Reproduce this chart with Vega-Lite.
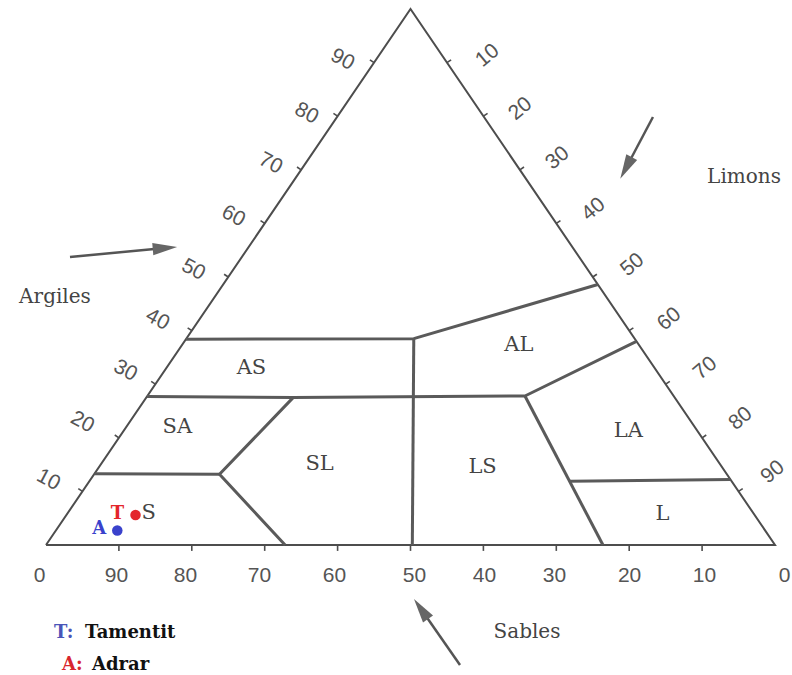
{
  "$schema": "https://vega.github.io/schema/vega-lite/v6.json",
  "width": 792,
  "height": 675,
  "padding": 0,
  "autosize": {"type": "none"},
  "background": "white",
  "config": {"view": {"stroke": null}},
  "datasets": {
    "frame": [
      {"o": 1, "x": 0, "y": 0},
      {"o": 2, "x": 100, "y": 0},
      {"o": 3, "x": 50, "y": 100},
      {"o": 4, "x": 0, "y": 0}
    ],
    "bounds": [
      {"seg": "AS-top", "o": 1, "x": 19.2, "y": 38.4},
      {"seg": "AS-top", "o": 2, "x": 50.45, "y": 38.5},
      {"seg": "AS-top", "o": 3, "x": 75.7, "y": 48.6},
      {"seg": "AS-bottom", "o": 1, "x": 13.85, "y": 27.7},
      {"seg": "AS-bottom", "o": 2, "x": 33.9, "y": 27.5},
      {"seg": "AS-bottom", "o": 3, "x": 65.7, "y": 27.8},
      {"seg": "AS-bottom", "o": 4, "x": 81.0, "y": 38.0},
      {"seg": "vertical", "o": 1, "x": 50.45, "y": 38.5},
      {"seg": "vertical", "o": 2, "x": 50.25, "y": 0},
      {"seg": "S-top", "o": 1, "x": 6.65, "y": 13.3},
      {"seg": "S-top", "o": 2, "x": 23.8, "y": 13.2},
      {"seg": "SL-left", "o": 1, "x": 33.9, "y": 27.5},
      {"seg": "SL-left", "o": 2, "x": 23.8, "y": 13.2},
      {"seg": "SL-left", "o": 3, "x": 32.8, "y": 0},
      {"seg": "LS-right", "o": 1, "x": 65.7, "y": 27.8},
      {"seg": "LS-right", "o": 2, "x": 76.4, "y": 0},
      {"seg": "L-top", "o": 1, "x": 71.85, "y": 11.9},
      {"seg": "L-top", "o": 2, "x": 93.9, "y": 12.2}
    ],
    "ticks": [
      {"x": 5, "y": 10, "x2": 4.43, "y2": 10.52},
      {"x": 10, "y": 20, "x2": 9.43, "y2": 20.52},
      {"x": 15, "y": 30, "x2": 14.43, "y2": 30.52},
      {"x": 20, "y": 40, "x2": 19.43, "y2": 40.52},
      {"x": 25, "y": 50, "x2": 24.43, "y2": 50.52},
      {"x": 30, "y": 60, "x2": 29.43, "y2": 60.52},
      {"x": 35, "y": 70, "x2": 34.43, "y2": 70.52},
      {"x": 40, "y": 80, "x2": 39.43, "y2": 80.52},
      {"x": 45, "y": 90, "x2": 44.43, "y2": 90.52},
      {"x": 55, "y": 90, "x2": 55.57, "y2": 90.52},
      {"x": 60, "y": 80, "x2": 60.57, "y2": 80.52},
      {"x": 65, "y": 70, "x2": 65.57, "y2": 70.52},
      {"x": 70, "y": 60, "x2": 70.57, "y2": 60.52},
      {"x": 75, "y": 50, "x2": 75.57, "y2": 50.52},
      {"x": 80, "y": 40, "x2": 80.57, "y2": 40.52},
      {"x": 85, "y": 30, "x2": 85.57, "y2": 30.52},
      {"x": 90, "y": 20, "x2": 90.57, "y2": 20.52},
      {"x": 95, "y": 10, "x2": 95.57, "y2": 10.52},
      {"x": 10, "y": 0, "x2": 10, "y2": -1.1},
      {"x": 20, "y": 0, "x2": 20, "y2": -1.1},
      {"x": 30, "y": 0, "x2": 30, "y2": -1.1},
      {"x": 40, "y": 0, "x2": 40, "y2": -1.1},
      {"x": 50, "y": 0, "x2": 50, "y2": -1.1},
      {"x": 60, "y": 0, "x2": 60, "y2": -1.1},
      {"x": 70, "y": 0, "x2": 70, "y2": -1.1},
      {"x": 80, "y": 0, "x2": 80, "y2": -1.1},
      {"x": 90, "y": 0, "x2": 90, "y2": -1.1}
    ],
    "arrows": [
      {"axis": "Argiles", "x": 3.29, "y": 53.73, "x2": 16.32, "y2": 55.41, "dir": 85},
      {"axis": "Limons", "x": 83.26, "y": 79.85, "x2": 79.56, "y2": 70.34, "dir": 208},
      {"axis": "Sables", "x": 56.79, "y": -22.39, "x2": 51.44, "y2": -11.94, "dir": 325}
    ],
    "samples": [
      {"code": "T", "site": "Tamentit", "x": 12.28, "y": 5.59},
      {"code": "A", "site": "Adrar", "x": 9.78, "y": 2.72}
    ],
    "classes": [
      {"label": "AS", "x": 28.18, "y": 33.04},
      {"label": "SA", "x": 18.01, "y": 21.94},
      {"label": "SL", "x": 37.53, "y": 15.05},
      {"label": "AL", "x": 64.87, "y": 37.31},
      {"label": "LS", "x": 59.89, "y": 14.57},
      {"label": "LA", "x": 79.87, "y": 21.29},
      {"label": "L", "x": 84.58, "y": 5.76},
      {"label": "S", "x": 14.08, "y": 5.88}
    ],
    "bottomLabels": [
      {"t": "0", "x": -0.89, "y": -5.8},
      {"t": "90", "x": 9.67, "y": -5.8},
      {"t": "80", "x": 19.14, "y": -5.8},
      {"t": "70", "x": 29.29, "y": -5.8},
      {"t": "60", "x": 39.58, "y": -5.8},
      {"t": "50", "x": 50.54, "y": -5.8},
      {"t": "40", "x": 60.14, "y": -5.8},
      {"t": "30", "x": 69.75, "y": -5.8},
      {"t": "20", "x": 80.05, "y": -5.8},
      {"t": "10", "x": 90.33, "y": -5.8},
      {"t": "0", "x": 101.31, "y": -5.8}
    ],
    "leftLabels": [
      {"t": "90", "x": 40.67, "y": 90.54},
      {"t": "80", "x": 35.73, "y": 80.5},
      {"t": "70", "x": 30.79, "y": 71.2},
      {"t": "60", "x": 25.71, "y": 61.36},
      {"t": "50", "x": 20.22, "y": 51.34},
      {"t": "40", "x": 15.29, "y": 42.05},
      {"t": "30", "x": 10.89, "y": 32.54},
      {"t": "20", "x": 4.99, "y": 22.92},
      {"t": "10", "x": 0.31, "y": 12.12}
    ],
    "rightLabels": [
      {"t": "10", "x": 60.57, "y": 91.29},
      {"t": "20", "x": 65.09, "y": 81.37},
      {"t": "30", "x": 70.17, "y": 72.17},
      {"t": "40", "x": 75.11, "y": 62.6},
      {"t": "50", "x": 80.45, "y": 52.27},
      {"t": "60", "x": 85.52, "y": 42.13},
      {"t": "70", "x": 90.46, "y": 32.94},
      {"t": "80", "x": 95.3, "y": 23.55},
      {"t": "90", "x": 99.7, "y": 13.6}
    ],
    "titles": [
      {"t": "Argiles", "x": 1.23, "y": 46.27},
      {"t": "Limons", "x": 95.75, "y": 68.66},
      {"t": "Sables", "x": 65.98, "y": -16.23}
    ],
    "legendCodes": [
      {"code": "T", "t": "T:", "x": 1.1, "y": -17.35},
      {"code": "A", "t": "A:", "x": 2.19, "y": -23.32}
    ],
    "legendNames": [
      {"t": "Tamentit", "x": 5.35, "y": -17.35},
      {"t": "Adrar", "x": 6.31, "y": -23.32}
    ]
  },
  "encoding": {
    "x": {"field": "x", "type": "quantitative", "scale": {"domain": [-6.31, 102.332], "nice": false, "zero": false}, "axis": null},
    "y": {"field": "y", "type": "quantitative", "scale": {"domain": [-24.254, 101.679], "nice": false, "zero": false}, "axis": null}
  },
  "layer": [
    {
      "data": {"name": "frame"},
      "mark": {"type": "line", "color": "#4d4d4d", "strokeWidth": 2, "strokeJoin": "miter"},
      "encoding": {"order": {"field": "o", "type": "quantitative"}}
    },
    {
      "data": {"name": "bounds"},
      "mark": {"type": "line", "color": "#5a5a5a", "strokeWidth": 3, "strokeJoin": "round"},
      "encoding": {
        "detail": {"field": "seg", "type": "nominal"},
        "order": {"field": "o", "type": "quantitative"}
      }
    },
    {
      "data": {"name": "ticks"},
      "mark": {"type": "rule", "color": "#4d4d4d", "strokeWidth": 1.6},
      "encoding": {"x2": {"field": "x2"}, "y2": {"field": "y2"}}
    },
    {
      "data": {"name": "arrows"},
      "mark": {"type": "rule", "color": "#555555", "strokeWidth": 2.5},
      "encoding": {"x2": {"field": "x2"}, "y2": {"field": "y2"}}
    },
    {
      "data": {"name": "arrows"},
      "mark": {"type": "point", "shape": "M0,-1L0.5,1L-0.5,1Z", "filled": true, "size": 600, "color": "#666666", "opacity": 1},
      "encoding": {
        "x": {"field": "x2", "type": "quantitative", "scale": {"domain": [-6.31, 102.332], "nice": false, "zero": false}, "axis": null},
        "y": {"field": "y2", "type": "quantitative", "scale": {"domain": [-24.254, 101.679], "nice": false, "zero": false}, "axis": null},
        "angle": {"field": "dir", "type": "quantitative", "scale": null}
      }
    },
    {
      "data": {"name": "samples"},
      "mark": {"type": "point", "filled": true, "size": 110, "opacity": 1, "shape": "circle"},
      "encoding": {
        "color": {"field": "code", "type": "nominal", "scale": {"domain": ["T", "A"], "range": ["#e3252b", "#3a42cc"]}, "legend": null}
      }
    },
    {
      "data": {"name": "samples"},
      "mark": {"type": "text", "font": "DejaVu Serif", "fontWeight": "bold", "fontSize": 18, "dx": -18, "dy": -1},
      "encoding": {
        "text": {"field": "code"},
        "color": {"field": "code", "type": "nominal", "scale": {"domain": ["T", "A"], "range": ["#e3252b", "#3a42cc"]}, "legend": null}
      }
    },
    {
      "data": {"name": "classes"},
      "mark": {"type": "text", "font": "DejaVu Serif", "fontSize": 21, "color": "#444444"},
      "encoding": {"text": {"field": "label"}}
    },
    {
      "data": {"name": "bottomLabels"},
      "mark": {"type": "text", "font": "Liberation Sans", "fontSize": 21, "color": "#555555"},
      "encoding": {"text": {"field": "t"}}
    },
    {
      "data": {"name": "leftLabels"},
      "mark": {"type": "text", "font": "Liberation Sans", "fontSize": 21, "color": "#555555", "angle": 28},
      "encoding": {"text": {"field": "t"}}
    },
    {
      "data": {"name": "rightLabels"},
      "mark": {"type": "text", "font": "Liberation Sans", "fontSize": 21, "color": "#555555", "angle": -40},
      "encoding": {"text": {"field": "t"}}
    },
    {
      "data": {"name": "titles"},
      "mark": {"type": "text", "font": "DejaVu Serif", "fontSize": 20, "color": "#444444"},
      "encoding": {"text": {"field": "t"}}
    },
    {
      "data": {"name": "legendCodes"},
      "transform": [{"filter": "datum.code === 'T'"}],
      "mark": {"type": "text", "font": "DejaVu Serif", "fontWeight": "bold", "fontSize": 18, "align": "left", "baseline": "alphabetic", "color": "#4a55b8"},
      "encoding": {"text": {"field": "t"}}
    },
    {
      "data": {"name": "legendCodes"},
      "transform": [{"filter": "datum.code === 'A'"}],
      "mark": {"type": "text", "font": "DejaVu Serif", "fontWeight": "bold", "fontSize": 18, "align": "left", "baseline": "alphabetic", "color": "#d8262e"},
      "encoding": {"text": {"field": "t"}}
    },
    {
      "data": {"name": "legendNames"},
      "mark": {"type": "text", "font": "DejaVu Serif", "fontWeight": "bold", "fontSize": 18, "align": "left", "baseline": "alphabetic", "color": "#111111"},
      "encoding": {"text": {"field": "t"}}
    }
  ]
}
